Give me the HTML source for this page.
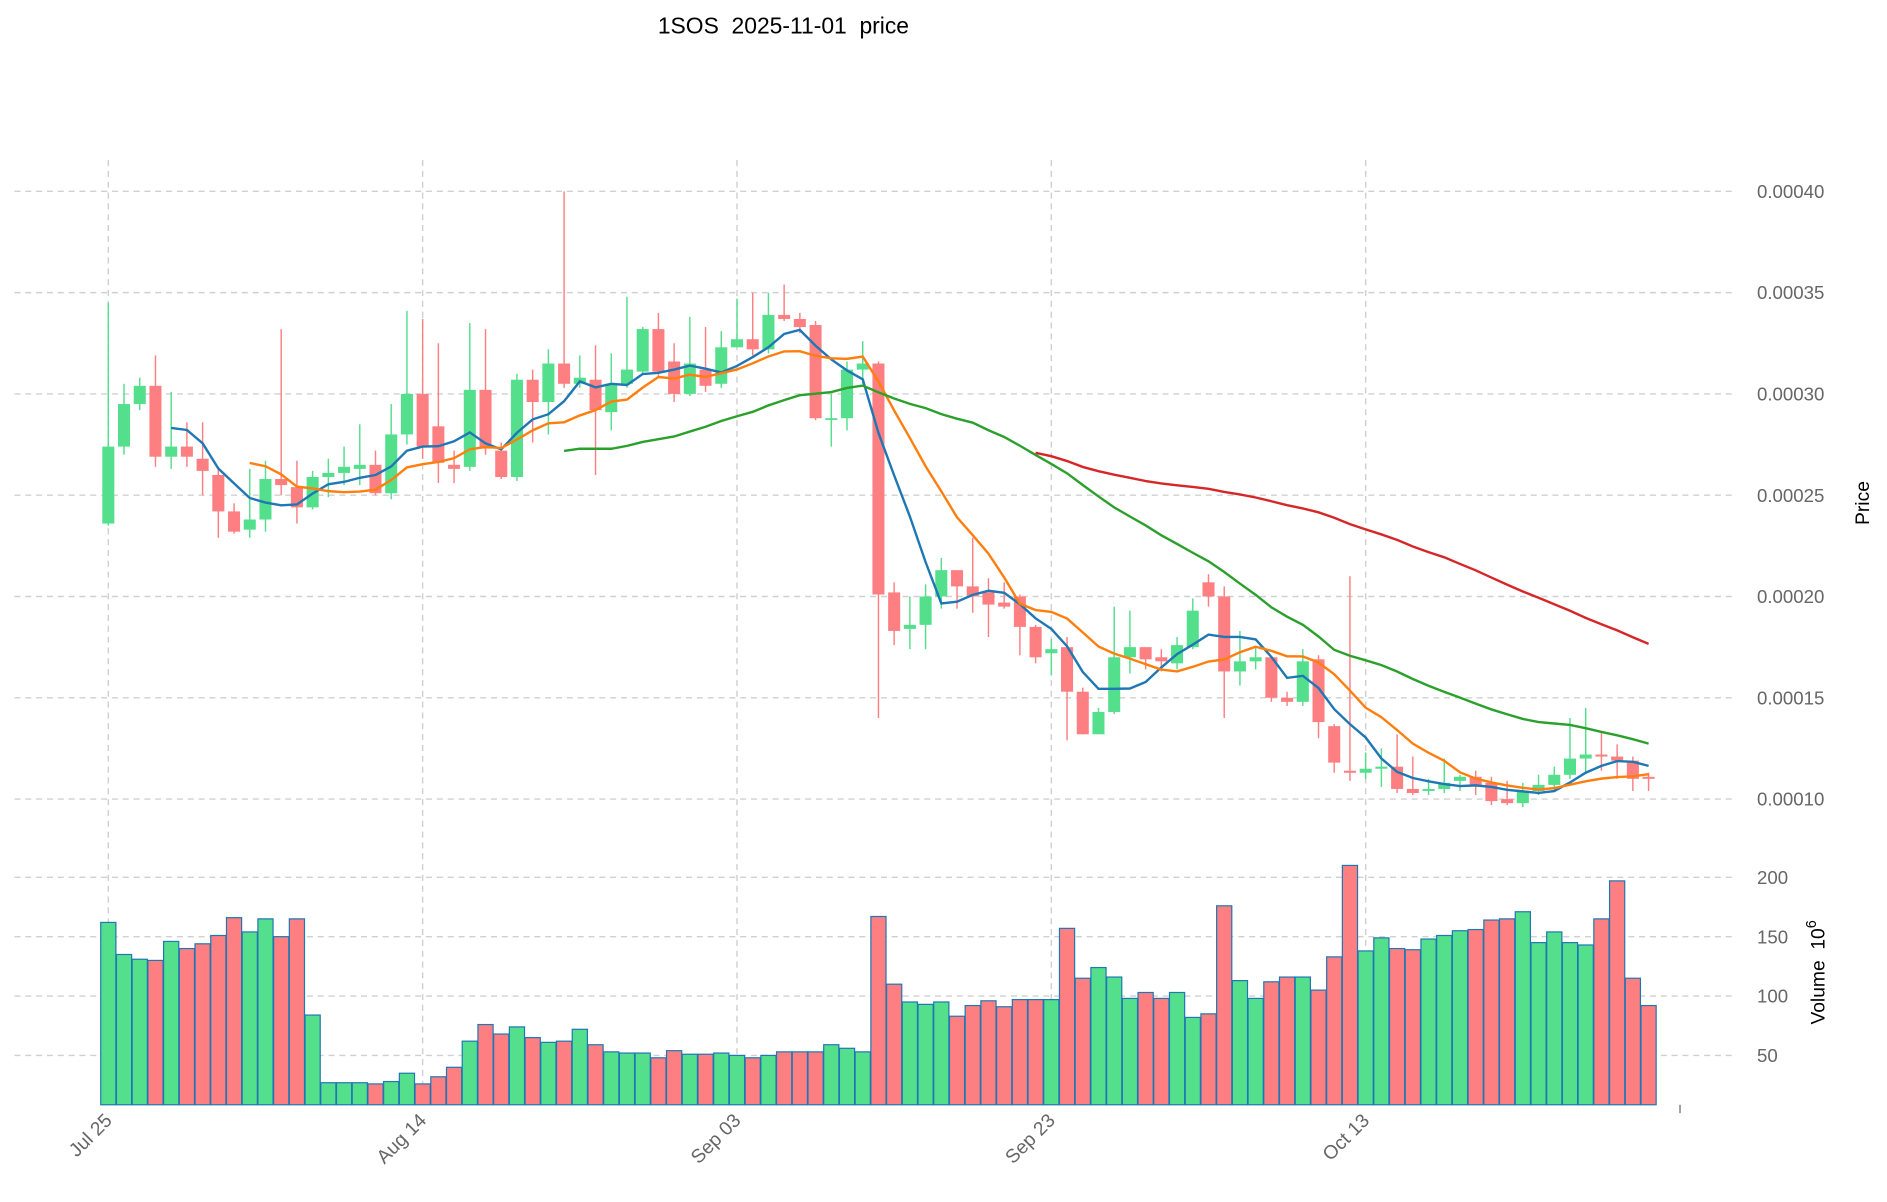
<!DOCTYPE html>
<html><head><meta charset="utf-8"><style>
html,body{margin:0;padding:0;background:#fff;}
svg{display:block;font-family:"Liberation Sans","DejaVu Sans",sans-serif;}
</style></head><body>
<svg id="chart" width="1887" height="1202" viewBox="0 0 1568 998.8" xmlns="http://www.w3.org/2000/svg">
<text x="651" y="28" font-size="19" text-anchor="middle" fill="#000" style="white-space:pre" xml:space="preserve">1SOS  2025-11-01  price</text>
<g id="grid"></g>
<g id="vol"></g>
<g id="candles"></g>
<g id="mas"></g>
<g id="axes"></g>
<text transform="translate(1553,418) rotate(-90)" font-size="16" text-anchor="middle" fill="#000">Price</text>
<text transform="translate(1516,808) rotate(-90)" font-size="16" text-anchor="middle" fill="#000" style="white-space:pre" xml:space="preserve">Volume  10<tspan dy="-7" font-size="12">6</tspan></text>
</svg>
<script>
const dates=["Jul 25","Aug 14","Sep 03","Sep 23","Oct 13"];
const dateIdx=[0,20,40,60,80];
const opens=[23.6,27.4,29.5,30.4,26.9,27.4,26.8,26.0,24.2,23.3,23.8,25.8,25.4,24.4,25.9,26.1,26.3,26.5,25.1,28.0,30.0,28.4,26.5,26.4,30.2,27.2,25.9,30.7,29.6,31.5,30.5,30.7,29.1,30.5,31.1,33.2,31.6,30.0,31.2,30.5,32.3,32.7,32.2,33.9,33.7,33.4,28.8,28.8,31.2,31.5,20.2,18.4,18.6,20.0,21.3,20.5,20.2,19.7,20.0,18.5,17.2,17.5,15.3,13.2,14.3,17.0,17.5,17.0,16.7,17.5,20.7,20.0,16.3,16.8,17.0,15.0,14.8,16.9,13.6,11.4,11.3,11.5,11.6,10.5,10.4,10.5,10.9,11.1,10.8,10.0,9.8,10.4,10.7,11.2,12.0,12.2,12.1,11.9,11.1];
const closes=[27.4,29.5,30.4,26.9,27.4,26.9,26.2,24.2,23.2,23.8,25.8,25.5,24.4,25.9,26.1,26.4,26.5,25.1,28.0,30.0,27.4,26.6,26.3,30.2,27.3,25.9,30.7,29.6,31.5,30.5,30.8,29.2,30.5,31.2,33.2,31.1,30.0,31.5,30.4,32.3,32.7,32.2,33.9,33.7,33.3,28.8,28.8,31.2,31.5,20.1,18.3,18.6,20.0,21.3,20.5,20.0,19.6,19.5,18.5,17.0,17.4,15.3,13.2,14.3,17.0,17.5,16.9,16.8,17.6,19.3,20.0,16.3,16.8,17.0,15.0,14.8,16.8,13.8,11.8,11.3,11.5,11.6,10.5,10.3,10.5,10.8,11.1,10.7,9.9,9.8,10.4,10.7,11.2,12.0,12.2,12.1,11.9,11.0,11.0];
const highs=[34.5,30.5,30.8,31.9,30.1,28.6,28.6,26.4,24.6,26.3,26.7,33.2,26.7,26.2,26.8,27.4,28.5,27.2,29.5,34.1,33.7,32.5,27.2,33.5,33.2,27.6,31.0,31.2,32.2,40.0,31.9,32.4,32.0,34.8,33.3,34.0,32.5,33.8,33.3,33.1,34.7,35.0,35.0,35.4,34.0,33.6,30.0,31.6,32.6,31.6,20.7,20.0,20.6,21.9,21.3,22.9,20.9,20.7,20.1,18.6,17.9,18.0,15.5,14.5,19.5,19.3,17.5,17.4,18.0,19.9,21.1,20.5,18.3,17.5,17.0,15.3,17.4,17.1,13.7,21.0,12.3,12.5,13.2,12.1,11.0,12.0,11.2,11.4,11.1,10.9,10.8,11.2,11.6,14.0,14.5,13.3,12.7,12.1,11.3];
const lows=[23.5,27.0,29.2,26.4,26.3,26.4,25.0,22.9,23.1,22.9,23.2,25.0,23.6,24.3,24.9,25.5,25.5,25.0,24.8,27.5,26.8,25.6,25.6,26.2,27.0,25.8,25.7,27.6,28.0,30.3,30.3,26.0,28.2,30.3,31.0,30.9,29.6,29.9,30.1,30.3,32.3,31.9,32.0,33.6,33.0,28.7,27.4,28.2,30.5,14.0,17.6,17.4,17.4,19.4,19.4,19.2,18.0,19.4,17.1,16.7,16.1,12.9,13.2,13.2,14.2,16.2,16.4,16.3,16.4,17.4,19.5,14.0,15.6,16.4,14.8,14.6,14.6,13.0,11.3,10.9,11.0,10.6,10.3,10.2,10.2,10.3,10.4,10.2,9.7,9.7,9.6,10.2,10.4,11.0,11.3,11.4,11.0,10.4,10.4];
const volumes=[162,135,131,130,146,140,144,151,166,154,165,150,165,84,27,27,27,26,28,35,26,32,40,62,76,68,74,65,61,62,72,59,53,52,52,48,54,51,51,52,50,48,50,53,53,53,59,56,53,167,110,95,93,95,83,92,96,91,97,97,97,157,115,124,116,98,103,98,103,82,85,176,113,98,112,116,116,105,133,210,138,149,140,139,148,151,155,156,164,165,171,145,154,145,143,165,197,115,92];
const priceTicks=[10,15,20,25,30,35,40];
const priceTickLabels=["0.00010","0.00015","0.00020","0.00025","0.00030","0.00035","0.00040"];
const volTicks=[50,100,150,200];
const maPeriods=[5,10,30,60];
const maColors=["#1f77b4","#ff7f0e","#2ca02c","#d62728"];

const NS="http://www.w3.org/2000/svg";
const X0=90, DX=13.06, L=12, R=1396, TOP=133, BOT=918;
const xs=i=>X0+i*DX;
const yp=p=>664-(p-10)/5*84.17;
const yv=v=>877-(v-50)*0.9867;
const GREEN="#54df8c", RED="#fd7f82";
function mk(tag,parent,attrs){const e=document.createElementNS(NS,tag);for(const k in attrs)e.setAttribute(k,attrs[k]);parent.appendChild(e);return e;}
const grid=document.getElementById('grid'),axes=document.getElementById('axes');
const dash={"stroke":"#d0d0d0","stroke-width":"1.2","stroke-dasharray":"5,4"};
dateIdx.forEach((d,k)=>{
  const l=mk('line',grid,Object.assign({x1:xs(d),x2:xs(d),y1:TOP,y2:BOT},dash));
  
  
  const t=mk('text',axes,{transform:`translate(${xs(d)+4},${BOT+14}) rotate(-45)`,"font-size":"16","text-anchor":"end",fill:"#666"});
  t.textContent=dates[k];
  
  
});
priceTicks.forEach((p,k)=>{
  const l=mk('line',grid,Object.assign({x1:L,x2:R+44,y1:yp(p),y2:yp(p)},dash));
  
  
  const t=mk('text',axes,{x:1460,y:yp(p)+5.5,"font-size":"15.5",fill:"#666"});
  t.textContent=priceTickLabels[k];
  
  
});
volTicks.forEach(v=>{
  const l=mk('line',grid,Object.assign({x1:L,x2:R+44,y1:yv(v),y2:yv(v)},dash));
  
  
  const t=mk('text',axes,{x:1460,y:yv(v)+5.5,"font-size":"15.5",fill:"#666"});
  t.textContent=String(v);
  
  
});
const tk=mk('line',axes,{x1:R,x2:R,y1:BOT,y2:BOT+7,stroke:"#666"});


const vol=document.getElementById('vol'),cg=document.getElementById('candles');
volumes.forEach((v,i)=>{
  const c=closes[i]>=opens[i]?GREEN:RED;
  const r=mk('rect',vol,{x:xs(i)-6.3,y:yv(v),width:12.6,height:BOT-yv(v),fill:c,stroke:"#1f77b4","stroke-width":"1"});
  
  
});
opens.forEach((o,i)=>{
  const c=closes[i]>=o?GREEN:RED;
  const w=mk('line',cg,{x1:xs(i),x2:xs(i),y1:yp(highs[i]),y2:yp(lows[i]),stroke:c,"stroke-width":"1.2"});
  
  
  const top=yp(Math.max(o,closes[i])),h=Math.max(1.5,Math.abs(yp(o)-yp(closes[i])));
  const b=mk('rect',cg,{x:xs(i)-5,y:top,width:10,height:h,fill:c});
  
  
});
const mg=document.getElementById('mas');
maPeriods.forEach((n,k)=>{
  let pts=[];
  for(let i=n-1;i<closes.length;i++){let s=0;for(let j=i-n+1;j<=i;j++)s+=closes[j];pts.push(xs(i).toFixed(1)+","+yp(s/n).toFixed(1));}
  const pl=mk('polyline',mg,{points:pts.join(" "),fill:"none",stroke:maColors[k],"stroke-width":"2"});
  
  
});
</script>
</body></html>
